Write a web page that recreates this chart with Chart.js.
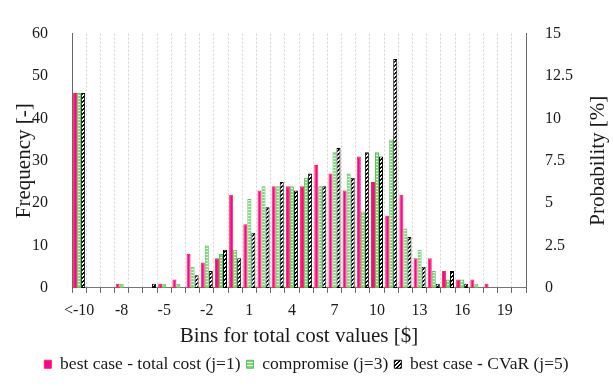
<!DOCTYPE html>
<html><head><meta charset="utf-8">
<script src="https://cdn.jsdelivr.net/npm/chart.js@4/dist/chart.umd.min.js"></script>
<style>html,body{margin:0;padding:0;background:#fff}#wrap{width:613px;height:386px;position:relative}</style>
</head><body><div id="wrap"><canvas id="c" width="613" height="386"></canvas></div>
<script>
// Bins (categories); tick labels shown for every third bin
const categories = ['<-10','-10','-9','-8','-7','-6','-5','-4','-3','-2','-1','0','1','2','3','4','5','6','7','8','9','10','11','12','13','14','15','16','17','18','19','20'];
// Frequencies per bin
const bestCaseTotalCost = [46,0,0,1,0,0,1,2,8,6,7,22,15,23,24,24,24,29,27,23,31,25,17,22,7,7,4,2,2,1,0,0];
const compromise        = [46,0,0,1,0,0,1,1,5,10,8,9,21,24,24,24,26,24,32,27,18,32,35,14,9,4,2,2,1,0,0,0];
const bestCaseCVaR      = [46,0,0,0,0,1,0,0,3,4,9,7,13,19,25,23,27,24,33,26,32,31,54,12,5,1,4,1,0,0,0,0];
const seriesNames = ['best case - total cost (j=1)','compromise (j=3)','best case - CVaR (j=5)'];
const freqTicks = {min:0, max:60, step:10};
const probTicks = {min:0, max:15, step:2.5};
const rightTitle = 'Probability [%]';

const FONT = "'Liberation Serif','Times New Roman',serif";
Chart.defaults.font.family = FONT;
Chart.defaults.color = '#1a1a1a';

function greenPattern(){
  const c=document.createElement('canvas'); c.width=4; c.height=3;
  const g=c.getContext('2d');
  g.fillStyle='#7fd67f'; g.fillRect(0,0,4,3);
  g.fillStyle='#eefaee'; g.fillRect(0,2,4,1);
  return g.createPattern(c,'repeat');
}
function hatchPattern(){
  const c=document.createElement('canvas'); c.width=4; c.height=4;
  const g=c.getContext('2d');
  g.fillStyle='#fff'; g.fillRect(0,0,4,4);
  g.fillStyle='#000';
  for(let i=0;i<4;i++){ g.fillRect((3-i+4)%4,i,1,1); g.fillRect((4-i+4)%4,i,1,1); }
  return g.createPattern(c,'repeat');
}
const nz = a => a.map(v => v === 0 ? null : v);

// Right-axis title reading bottom-to-top (like the left one)
const rightTitlePlugin = {
  id:'rightTitle',
  afterDraw(chart){
    const s = chart.scales.y2, ctx = chart.ctx;
    ctx.save();
    ctx.font = "21px " + FONT;
    ctx.fillStyle = '#1a1a1a';
    ctx.textAlign = 'center';
    ctx.textBaseline = 'middle';
    ctx.translate(s.right - 15, (s.top + s.bottom) / 2);
    ctx.rotate(-Math.PI/2);
    ctx.fillText(rightTitle, 0, 0);
    ctx.restore();
  }
};

new Chart(document.getElementById('c'), {
  type:'bar',
  data:{
    labels: categories,
    datasets:[
      {label:seriesNames[0], data:nz(bestCaseTotalCost), backgroundColor:'#ff00a0', borderColor:'#ff2a3a', borderWidth:1, yAxisID:'y'},
      {label:seriesNames[1], data:nz(compromise), backgroundColor:greenPattern(), borderColor:'#52c452', borderWidth:1, yAxisID:'y'},
      {label:seriesNames[2], data:nz(bestCaseCVaR), backgroundColor:hatchPattern(), borderColor:'#000', borderWidth:1, yAxisID:'y'}
    ]
  },
  plugins:[rightTitlePlugin],
  options:{
    responsive:false, animation:false,
    datasets:{bar:{barPercentage:1, categoryPercentage:0.85, borderSkipped:false}},
    layout:{padding:{top:16,bottom:3,left:0,right:0}},
    plugins:{
      legend:{position:'bottom', labels:{font:{family:FONT,size:17.5}, color:'#1a1a1a', boxWidth:7, boxHeight:8, padding:6}},
      tooltip:{enabled:false}
    },
    scales:{
      x:{
        ticks:{autoSkip:false, maxRotation:0, minRotation:0, padding:8, font:{size:16}, color:'#1a1a1a',
          callback:(v,i)=> i%3===0 ? categories[i] : ''},
        grid:{color:'#d4d4d4', tickColor:'#666', tickLength:5, offset:true, lineWidth:1},
        border:{color:'#777', dash:[2,2]},
        title:{display:true, text:'Bins for total cost values [$]', font:{size:21}, color:'#1a1a1a', padding:{top:0,bottom:0}},
        afterFit(s){ s.height = 61.6; }
      },
      y:{
        position:'left', min:freqTicks.min, max:freqTicks.max,
        ticks:{stepSize:freqTicks.step, padding:24, font:{size:16}, color:'#1a1a1a'},
        grid:{display:false, drawTicks:false},
        border:{color:'#666'},
        title:{display:true, text:'Frequency [-]', font:{size:21}, color:'#1a1a1a', padding:{top:12,bottom:0}},
        afterFit(s){ s.width = 72; }
      },
      y2:{
        position:'right', min:probTicks.min, max:probTicks.max,
        ticks:{stepSize:probTicks.step, padding:19, font:{size:16}, color:'#1a1a1a'},
        grid:{display:false, drawTicks:false},
        border:{color:'#666'},
        title:{display:false},
        afterFit(s){ s.width = 87; }
      }
    }
  }
});
</script></body></html>
